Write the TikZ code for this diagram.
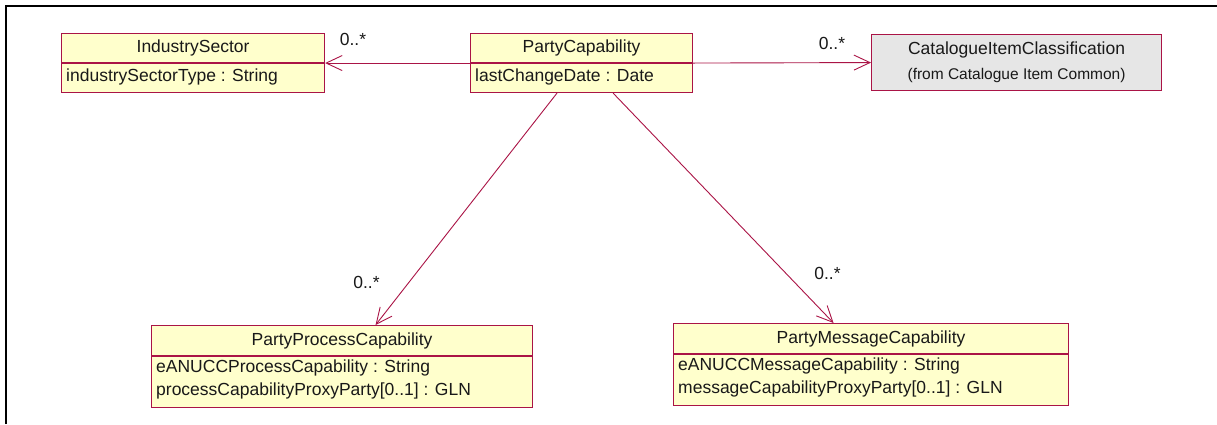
\documentclass[tikz,border=0pt]{standalone}
\usepackage{fontspec}
\setmainfont{Liberation Sans}
\usetikzlibrary{arrows.meta,calc}
\definecolor{umlred}{RGB}{170,20,70}
\definecolor{umlfill}{RGB}{255,255,204}
\definecolor{umlgray}{RGB}{230,230,230}
\begin{document}
\begin{tikzpicture}[x=1pt,y=-1pt,
  classbox/.style={draw=umlred, fill=umlfill, line width=1.1pt, inner sep=0pt, anchor=north west},
  refbox/.style={classbox, fill=umlgray},
  divider/.style={draw=umlred, line width=1.1pt},
  mainfont/.style={font=\fontsize{17.5}{20}\selectfont, text=black!90},
  subfont/.style={font=\fontsize{15.5}{18}\selectfont, text=black!90},
  title/.style={mainfont, inner sep=0pt, anchor=center},
  attr/.style={mainfont, inner sep=0pt, anchor=west},
  mult/.style={mainfont, inner sep=0pt, anchor=center},
  assoc/.style={draw=umlred, line width=0.9pt, -{Straight Barb[length=16pt,width=15pt,line width=0.9pt]}},
  frameline/.style={draw=black, line width=2.2pt}
]
\useasboundingbox (0,0) rectangle (1217,424);
\fill[white] (0,0) rectangle (1217,424);
\draw[frameline] (5.8,424) -- (5.8,6) -- (1217,6);

% IndustrySector
\node[classbox, minimum width=263pt, minimum height=59pt] (ind) at (61,33) {};
\draw[divider] (ind.west |- 0,63) -- (ind.east |- 0,63);
\node[title] (indT) at ($(ind.north)+(0,15)$) {IndustrySector};
\node[attr] (indA) at (66,77) {industrySectorType : String};

% PartyCapability
\node[classbox, minimum width=222pt, minimum height=59pt] (pc) at (470,33) {};
\draw[divider] (pc.west |- 0,63) -- (pc.east |- 0,63);
\node[title] (pcT) at ($(pc.north)+(0,15)$) {PartyCapability};
\node[attr] (pcA) at (475,77) {lastChangeDate : Date};

% CatalogueItemClassification
\node[refbox, minimum width=290pt, minimum height=56pt] (cat) at (871,34) {};
\node[title] (catT) at ($(cat.north)+(0,16)$) {CatalogueItemClassification};
\node[subfont, inner sep=0pt] (catS) at ($(cat.north)+(0,41)$) {(from Catalogue Item Common)};

% PartyProcessCapability
\node[classbox, minimum width=381pt, minimum height=82pt] (ppc) at (151,325) {};
\draw[divider] (ppc.west |- 0,356) -- (ppc.east |- 0,356);
\node[title] (ppcT) at ($(ppc.north)+(0,16)$) {PartyProcessCapability};
\node[attr] (ppcA1) at (156,368) {eANUCCProcessCapability : String};
\node[attr] (ppcA2) at (156,391) {processCapabilityProxyParty[0..1] : GLN};

% PartyMessageCapability
\node[classbox, minimum width=395pt, minimum height=82pt] (pmc) at (673,323) {};
\draw[divider] (pmc.west |- 0,354) -- (pmc.east |- 0,354);
\node[title] (pmcT) at ($(pmc.north)+(0,16)$) {PartyMessageCapability};
\node[attr] (pmcA1) at (678,366) {eANUCCMessageCapability : String};
\node[attr] (pmcA2) at (678,389) {messageCapabilityProxyParty[0..1] : GLN};

% associations
\draw[assoc] (pc.west) -- (ind.east);
\draw[assoc] (pc.east) -- (cat.west);
\draw[assoc] ([xshift=87pt]pc.south west) -- ([xshift=33.5pt]ppc.north);
\draw[assoc] ([xshift=-80pt]pc.south east) -- ([xshift=-37.5pt]pmc.north);

% multiplicities
\node[mult] (m1) at (353,39) {0..*};
\node[mult] (m2) at (832,43) {0..*};
\node[mult] (m3) at (366.5,282) {0..*};
\node[mult] (m4) at (827.5,273) {0..*};
\end{tikzpicture}
\end{document}
